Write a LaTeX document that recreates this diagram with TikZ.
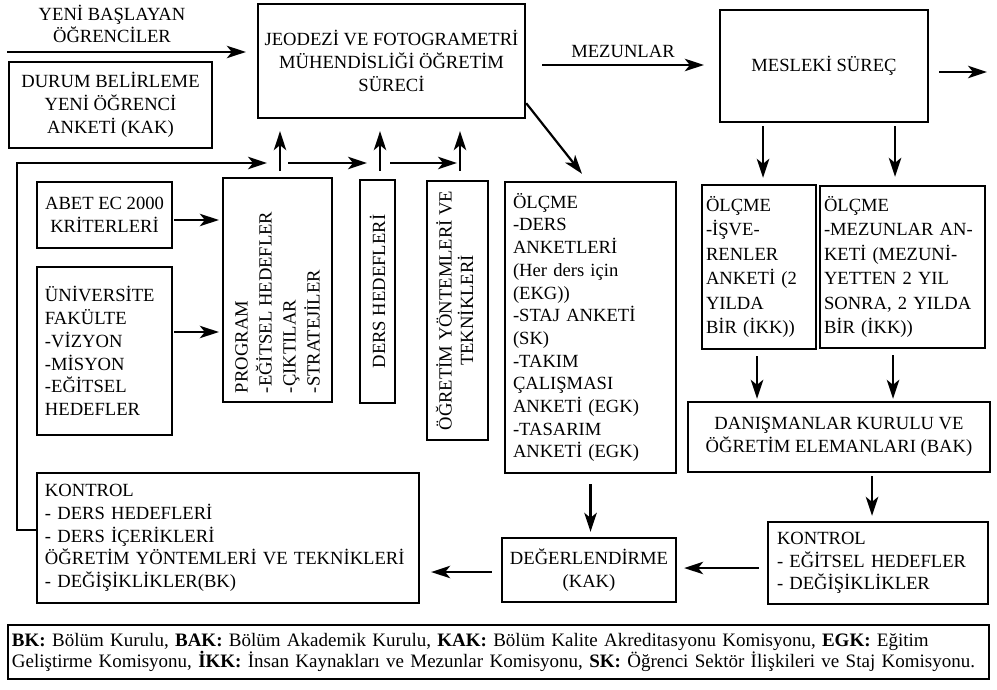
\documentclass[tikz,border=0pt]{standalone}
\usepackage{fontspec}
\usepackage{graphicx}
\setmainfont{Liberation Serif}
\usetikzlibrary{arrows.meta}
\newcommand\fsmain{\fontsize{18.6}{22.7}\selectfont}
\newcommand\fsright{\fontsize{18.6}{24.4}\selectfont}
\newcommand\fsleg{\fontsize{19}{21}\selectfont}
\tikzset{
  box/.style={draw, line width=2.4pt, inner sep=0pt, font=\fsmain},
  cbox/.style={box, align=center},
  lbox/.style={box, align=left},
  arr/.style={-{Stealth[length=19pt,width=12.5pt,inset=5pt]}, line width=2.2pt},
  plain/.style={inner sep=0pt, font=\fsmain, align=center},
}
\begin{document}
\begin{tikzpicture}[x=1pt,y=-1pt]
\useasboundingbox (0,0) rectangle (997,690);

% boxes
\node[cbox, minimum width=267pt, minimum height=114pt] (main) at (391.5,61)
  {JEODEZİ VE FOTOGRAMETRİ\\MÜHENDİSLİĞİ ÖĞRETİM\\SÜRECİ};
\node[cbox, minimum width=203pt, minimum height=86pt] (durum) at (110.5,105)
  {DURUM BELİRLEME\\YENİ ÖĞRENCİ\\ANKETİ (KAK)};
\node[cbox, minimum width=208pt, minimum height=112pt] (mes) at (824,66)
  {\raisebox{-5pt}{MESLEKİ SÜREÇ}};
\node[cbox, minimum width=135pt, minimum height=66pt] (abet) at (104.5,215)
  {ABET EC 2000\\KRİTERLERİ};
\node[lbox, minimum width=135pt, minimum height=168pt, text width=119pt, inner xsep=8pt] (uni) at (104.5,351)
  {ÜNİVERSİTE\\FAKÜLTE\\-VİZYON\\-MİSYON\\-EĞİTSEL\\HEDEFLER};
\node[cbox, minimum width=109pt, minimum height=224pt] (prog) at (277.5,290)
  {\rotatebox{90}{\parbox{206pt}{\fontsize{18.6}{24}\selectfont\raggedright PROGRAM\\-EĞİTSEL HEDEFLER\\-ÇIKTILAR\\-STRATEJİLER}}};
\node[cbox, minimum width=35pt, minimum height=223pt] (ders) at (377.5,291.5)
  {\rotatebox{90}{DERS HEDEFLERİ}};
\node[cbox, minimum width=61pt, minimum height=259pt] (ogr) at (457.5,310.5)
  {\rotatebox{90}{\fontsize{18.6}{20}\selectfont\begin{tabular}{@{}c@{}}ÖĞRETİM YÖNTEMLERİ VE\\TEKNİKLERİ\end{tabular}}};
\node[lbox, minimum width=171pt, minimum height=291pt, text width=155pt, inner xsep=8pt] (olc) at (590.5,327.5)
  {ÖLÇME\\-DERS\\ANKETLERİ\\(Her ders için\\(EKG))\\-STAJ ANKETİ\\(SK)\\-TAKIM\\ÇALIŞMASI\\ANKETİ (EGK)\\-TASARIM\\ANKETİ (EGK)};
\node[lbox, font=\fsright, minimum width=114pt, minimum height=164pt, text width=106pt, inner xsep=4pt] (isv) at (759,267)
  {ÖLÇME\\-İŞVE-\\RENLER\\ANKETİ (2\\YILDA\\BİR (İKK))};
\node[lbox, font=\fsright, minimum width=165pt, minimum height=162pt, text width=157pt, inner xsep=4pt] (mza) at (902.5,267)
  {ÖLÇME\\-MEZUNLAR AN-\\KETİ (MEZUNİ-\\YETTEN 2 YIL\\SONRA, 2 YILDA\\BİR (İKK))};
\node[cbox, minimum width=302pt, minimum height=70pt] (dan) at (839,437)
  {DANIŞMANLAR KURULU VE\\ÖĞRETİM ELEMANLARI (BAK)};
\node[lbox, minimum width=220pt, minimum height=82pt, text width=202pt, inner xsep=9pt] (kr) at (878,563)
  {KONTROL\\- EĞİTSEL HEDEFLER\\- DEĞİŞİKLİKLER};
\node[cbox, minimum width=174pt, minimum height=64pt] (deg) at (589,570)
  {DEĞERLENDİRME\\(KAK)};
\node[lbox, minimum width=382pt, minimum height=130pt, text width=366pt, inner xsep=8pt] (kl) at (228,538)
  {KONTROL\\- DERS HEDEFLERİ\\- DERS İÇERİKLERİ\\ÖĞRETİM YÖNTEMLERİ VE TEKNİKLERİ\\- DEĞİŞİKLİKLER(BK)};
\node[lbox, font=\fsleg, minimum width=981pt, minimum height=54pt, text width=973pt, inner xsep=4pt] (leg) at (498.5,652)
  {\mbox{\textbf{BK:} Bölüm Kurulu, \textbf{BAK:} Bölüm Akademik Kurulu, \textbf{KAK:} Bölüm Kalite Akreditasyonu Komisyonu, \textbf{EGK:} Eğitim}\\
   \mbox{Geliştirme Komisyonu, \textbf{İKK:} İnsan Kaynakları ve Mezunlar Komisyonu, \textbf{SK:} Öğrenci Sektör İlişkileri ve Staj Komisyonu.}};

% free labels
\node[plain] (yeni) at (112,24) {YENİ BAŞLAYAN\\ÖĞRENCİLER};
\node[plain] (mzl) at (623,51) {MEZUNLAR};

% coordinates
\coordinate (ys) at (7,52);
\coordinate (ms) at (542,65);
\coordinate (ex) at (987,72);
\coordinate (pu) at (280,163);
\coordinate (du) at (380,163);
\coordinate (ou) at (460,163);

% connectors
\draw[arr, shorten >=11pt] (ys) -- (ys -| main.west);
\draw[arr, shorten >=15pt] (ms) -- (ms -| mes.west);
\draw[arr, shorten <=10pt] (ex -| mes.east) -- (ex);
\draw[arr] ([yshift=16pt]main.south east) -- ([xshift=-8.5pt,yshift=7pt]olc.north);

\draw[arr, shorten <=6pt, shorten >=12pt] ([xshift=2.5pt]prog.north) -- ([xshift=2.5pt]prog.north |- main.south);
\draw[arr, shorten <=8pt, shorten >=12pt] ([xshift=2.5pt]ders.north) -- ([xshift=2.5pt]ders.north |- main.south);
\draw[arr, shorten <=9pt, shorten >=12pt] ([xshift=2.5pt]ogr.north) -- ([xshift=2.5pt]ogr.north |- main.south);
\draw[arr, shorten <=8pt, shorten >=13pt] (pu) -- (du);
\draw[arr, shorten <=10pt, shorten >=3pt] (du) -- (ou);
\draw[arr, shorten >=13pt] ([yshift=8pt]kl.west) -- ++(-19,0) |- (pu);

\draw[arr, shorten <=1pt, shorten >=3pt] ([yshift=-5pt]abet.east) -- ([yshift=-5pt]abet.east -| prog.west);
\draw[arr, shorten <=1pt, shorten >=3pt] ([yshift=19pt]uni.east) -- ([yshift=19pt]uni.east -| prog.west);

\draw[arr, shorten <=3pt, shorten >=6pt] ([xshift=4pt]isv.north |- mes.south) -- ([xshift=4pt]isv.north);
\draw[arr, shorten <=3pt, shorten >=8pt] ([xshift=-7.5pt]mza.north |- mes.south) -- ([xshift=-7.5pt]mza.north);
\draw[arr, shorten <=6pt, shorten >=2pt] ([xshift=-2pt]isv.south) -- ([xshift=-2pt]isv.south |- dan.north);
\draw[arr, shorten <=6pt, shorten >=2pt] ([xshift=-9.5pt]mza.south) -- ([xshift=-9.5pt]mza.south |- dan.north);
\draw[arr, shorten <=3pt, shorten >=5pt] ([xshift=-6pt]kr.north |- dan.south) -- ([xshift=-6pt]kr.north);
\draw[arr, shorten <=10pt, shorten >=5pt] (olc.south) -- (olc.south |- deg.north);
\draw[arr, shorten <=8pt, shorten >=7pt] ([yshift=-5pt]kr.west) -- ([yshift=-5pt]kr.west -| deg.east);
\draw[arr, shorten <=9pt, shorten >=11pt] ([yshift=-2pt]deg.west) -- ([yshift=-2pt]deg.west -| kl.east);
\end{tikzpicture}
\end{document}
